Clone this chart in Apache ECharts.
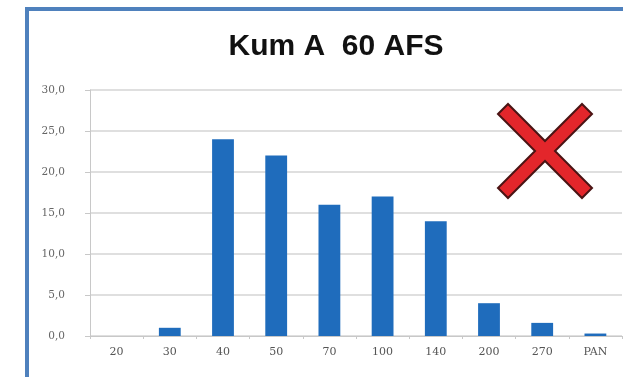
<!DOCTYPE html>
<html><head><meta charset="utf-8">
<script src="https://cdn.jsdelivr.net/npm/echarts@6/dist/echarts.min.js"></script>
<style>html,body{margin:0;padding:0;background:#fff}#c{width:623px;height:377px}</style>
</head><body><div id="c"></div>
<script>
const titleText = 'Kum A  60 AFS';
const categories = ['20','30','40','50','70','100','140','200','270','PAN'];
const values = [0, 1.0, 24.0, 22.0, 16.0, 17.0, 14.0, 4.0, 1.6, 0.3];
const yTicks = [0, 5, 10, 15, 20, 25, 30];

const chart = echarts.init(document.getElementById('c'), null, {renderer:'canvas'});
const s = 47, d = 10;
chart.setOption({
  animation: false,
  backgroundColor: '#fff',
  title: {
    text: titleText, left: 331, top: 27, textAlign: 'center',
    textStyle: {fontFamily: 'Liberation Sans, Arial, sans-serif', fontWeight: 'bold', fontSize: 30, color: '#111'}
  },
  grid: {left: 90, right: 1, top: 90, bottom: 41},
  xAxis: {
    type: 'category', data: categories,
    axisLine: {lineStyle: {color: '#c8c8c8', width: 1}},
    axisTick: {show: true, length: 3, lineStyle: {color: '#c8c8c8'}},
    axisLabel: {margin: 11, fontFamily: 'DejaVu Serif, Liberation Serif, serif', fontSize: 11, color: '#555'}
  },
  yAxis: {
    type: 'value', min: yTicks[0], max: yTicks[yTicks.length-1], interval: 5,
    axisLine: {show: true, lineStyle: {color: '#c8c8c8'}},
    axisTick: {show: true, length: 5, lineStyle: {color: '#c8c8c8'}},
    splitLine: {lineStyle: {color: '#d4d4d4', width: 1.5}},
    axisLabel: {margin: 25, fontFamily: 'DejaVu Serif, Liberation Serif, serif', fontSize: 10.5, color: '#666',
      formatter: v => v.toFixed(1).replace('.', ',')}
  },
  series: [{
    type: 'bar', data: values, barWidth: '41%',
    itemStyle: {color: '#1f6cbc'}
  }],
  graphic: [
    {type: 'rect', shape: {x: 25, y: 7, width: 4, height: 370}, style: {fill: '#4f81bd'}, z: 100},
    {type: 'rect', shape: {x: 25, y: 7, width: 598, height: 4}, style: {fill: '#4f81bd'}, z: 100},
    {type: 'polygon', x: 545, y: 151, z: 100,
      shape: {points: [[-s,-s+d],[-s+d,-s],[0,-d],[s-d,-s],[s,-s+d],[d,0],[s,s-d],[s-d,s],[0,d],[-s+d,s],[-s,s-d],[-d,0]]},
      style: {fill: '#e3262b', stroke: '#4a1414', lineWidth: 2}}
  ]
});
</script></body></html>
